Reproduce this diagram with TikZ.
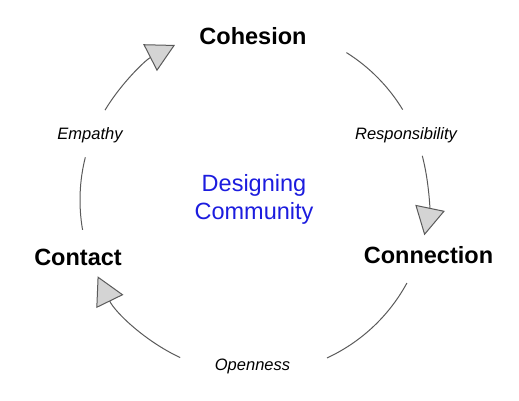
\documentclass[tikz,border=0pt]{standalone}
\usepackage{fontspec}
\setmainfont{Liberation Sans}
\usetikzlibrary{arrows.meta}
\definecolor{ringgray}{RGB}{90,90,90}
\definecolor{tipgray}{RGB}{212,212,212}
\definecolor{titleblue}{RGB}{28,28,222}
\tikzset{
  ring/.style={draw=ringgray,line width=1pt},
  ringtip/.style={ring,-{Triangle[length=28pt,width=30pt,fill=tipgray]}},
  stage/.style={font=\fontsize{23.5}{28}\selectfont\bfseries,anchor=base,inner sep=0pt},
  value/.style={font=\fontsize{16.5}{20}\selectfont\itshape,anchor=base,inner sep=0pt},
}
\begin{document}
\begin{tikzpicture}[x=1pt,y=1pt]
\pgfmathsetmacro{\kr}{174}
\useasboundingbox(-254,-200)rectangle(265,200);
\node[stage](cohesion)at(-1,156){Cohesion};
\node[stage](connection)at(174.5,-63){Connection};
\node[stage](contact)at(-176,-65){Contact};
\node[value](responsibility)at(152,61){Responsibility};
\node[value](openness)at(-1.5,-170){Openness};
\node[value](empathy)at(-164,61){Empathy};
\node[font=\fontsize{23.5}{28}\selectfont,text=titleblue,align=center,inner sep=0pt](title)at(0,1){Designing\\Community};
\foreach \sa/\ea/\nm in {57.9/31.3/a,-28.5/-65.2/b,189.9/165.8/c}{\coordinate(\nm0)at(\sa:\kr);\draw[ring](\nm0)arc[start angle=\sa,end angle=\ea,radius=\kr pt];}
\foreach \sa/\ea/\nm in {14.7/-11.7/a,-115.1/-154/b,148.9/117/c}{\coordinate(\nm1)at(\sa:\kr);\draw[ringtip](\nm1)arc[start angle=\sa,end angle=\ea,radius=\kr pt];}
\end{tikzpicture}
\end{document}
